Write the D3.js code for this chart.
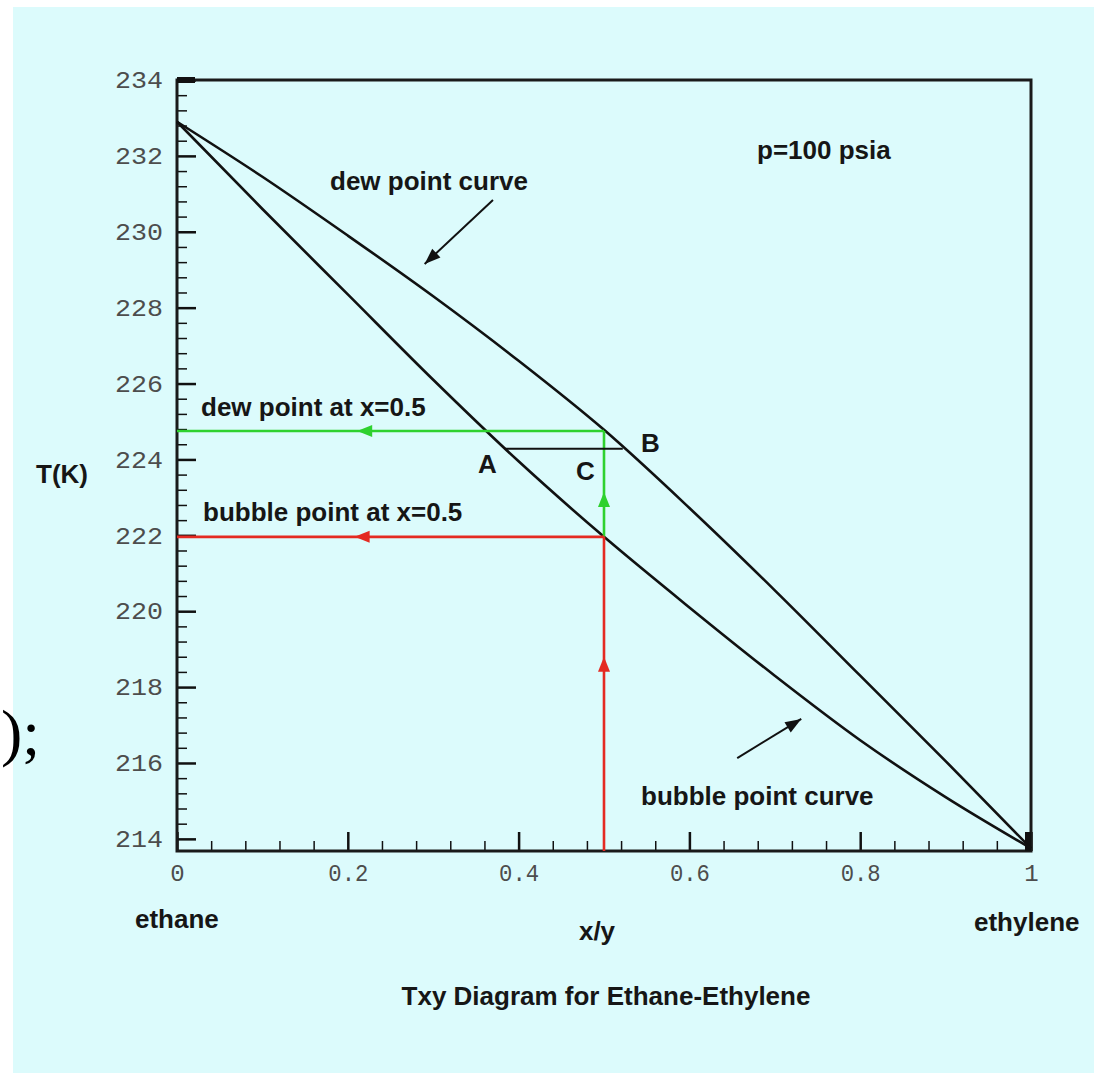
<!DOCTYPE html>
<html><head><meta charset="utf-8">
<script src="https://cdn.jsdelivr.net/npm/d3@7"></script>
<style>body{margin:0;background:#fff}svg{display:block}</style>
</head><body><svg id="c" width="1099" height="1076"></svg>
<script>
// ---- data ----
const xMajorTicks = [0, 0.2, 0.4, 0.6, 0.8, 1];
const xTickLabels = ["0", "0.2", "0.4", "0.6", "0.8", "1"];
const yMajorTicks = [214, 216, 218, 220, 222, 224, 226, 228, 230, 232, 234];
const yTickLabels = ["214", "216", "218", "220", "222", "224", "226", "228", "230", "232", "234"];
const dewX = [0, 0.1, 0.2, 0.3, 0.4, 0.5, 0.6, 0.7, 0.8, 0.9, 1];
const dewT = [232.9, 231.45, 229.9, 228.3, 226.6, 224.78, 222.72, 220.55, 218.3, 216.05, 213.75];
const bubbleX = [0, 0.1, 0.2, 0.3, 0.4, 0.5, 0.6, 0.7, 0.8, 0.9, 1];
const bubbleT = [232.9, 230.6, 228.35, 226.1, 223.95, 221.96, 220.1, 218.3, 216.6, 215.1, 213.75];
const feedX = 0.5;
const dewAtFeed = 224.75;
const bubbleAtFeed = 221.96;
const tieT = 224.28;
const tieXA = 0.384;
const tieXB = 0.522;
const yMin = 213.68, yMax = 234;

// ---- drawing ----
const svg = d3.select("#c");
const x = d3.scaleLinear().domain([0, 1]).range([177, 1031]);
const y = d3.scaleLinear().domain([yMin, yMax]).range([851, 80]);

svg.append("rect").attr("x", 0).attr("y", 0).attr("width", 1099).attr("height", 1076).attr("fill", "#ffffff");
svg.append("rect").attr("x", 13).attr("y", 7).attr("width", 1081).attr("height", 1066).attr("fill", "#dcfbfc");

// stray text on the left
svg.append("text").attr("x", 1).attr("y", 754)
  .attr("font-family", "Liberation Serif").attr("font-size", 64).attr("fill", "#000").text(");");

const tickColor = "#111";
const labelFont = "Liberation Sans";

// minor ticks
const yMinor = d3.range(214, 234.001, 0.4).map(v => +v.toFixed(1)).filter(v => !yMajorTicks.includes(v));
const xMinor = d3.range(0, 1.0001, 0.04).map(v => +v.toFixed(2)).filter(v => !xMajorTicks.includes(v));

const gyMinor = svg.append("g").attr("transform", `translate(${x(0)},0)`)
  .call(d3.axisLeft(y).tickValues(yMinor).tickSize(-10).tickFormat(""));
const gxMinor = svg.append("g").attr("transform", `translate(0,${y(yMin)})`)
  .call(d3.axisBottom(x).tickValues(xMinor).tickSize(-10).tickFormat(""));
[gyMinor, gxMinor].forEach(g => {
  g.select(".domain").remove();
  g.selectAll(".tick line").attr("stroke", tickColor).attr("stroke-width", 1.5);
});

// major ticks + labels
const gy = svg.append("g").attr("transform", `translate(${x(0)},0)`)
  .call(d3.axisLeft(y).tickValues(yMajorTicks).tickSize(-19).tickPadding(14)
    .tickFormat((d, i) => yTickLabels[i]));
const gx = svg.append("g").attr("transform", `translate(0,${y(yMin)})`)
  .call(d3.axisBottom(x).tickValues(xMajorTicks).tickSize(-19).tickPadding(30)
    .tickFormat((d, i) => xTickLabels[i]));
[gy, gx].forEach(g => {
  g.select(".domain").remove();
  g.selectAll(".tick line").attr("stroke", tickColor).attr("stroke-width", 2.5);
  g.selectAll(".tick text").attr("font-family", "Liberation Mono").attr("font-size", 24)
    .attr("fill", "#4d4d4d");
});
gy.selectAll(".tick text").attr("textLength", 48).attr("lengthAdjust", "spacingAndGlyphs");
gx.selectAll(".tick text").attr("dy", "0.32em").attr("y", 0)
  .attr("transform", "translate(0,22)");
gx.selectAll(".tick text").filter(d => d !== 0 && d !== 1)
  .attr("textLength", 40).attr("lengthAdjust", "spacingAndGlyphs");

// frame
svg.append("rect").attr("x", x(0)).attr("y", y(yMax)).attr("width", x(1) - x(0)).attr("height", y(yMin) - y(yMax))
  .attr("fill", "none").attr("stroke", "#1a1a1a").attr("stroke-width", 3);
// heavy corner ticks
svg.append("line").attr("x1", x(0)).attr("x2", x(0) + 18).attr("y1", y(234)).attr("y2", y(234))
  .attr("stroke", "#111").attr("stroke-width", 6);
svg.append("line").attr("x1", x(1) - 3).attr("x2", x(1) - 3).attr("y1", y(yMin)).attr("y2", y(yMin) - 19)
  .attr("stroke", "#111").attr("stroke-width", 6);

// curves
const line = d3.line().x(d => x(d[0])).y(d => y(d[1])).curve(d3.curveMonotoneX);
const dewPts = dewX.map((v, i) => [v, dewT[i]]);
const bubPts = bubbleX.map((v, i) => [v, bubbleT[i]]);
svg.append("path").attr("d", line(dewPts)).attr("fill", "none").attr("stroke", "#111").attr("stroke-width", 2.6);
svg.append("path").attr("d", line(bubPts)).attr("fill", "none").attr("stroke", "#111").attr("stroke-width", 2.6);

// construction lines
const green = "#2fd12f", red = "#e42a22";
function seg(x1, y1, x2, y2, col, w) {
  svg.append("line").attr("x1", x(x1)).attr("y1", y(y1)).attr("x2", x(x2)).attr("y2", y(y2))
    .attr("stroke", col).attr("stroke-width", w);
}
function head(px, py, angleDeg, col, len, half) {
  const a = angleDeg * Math.PI / 180;
  const bx = px - len * Math.cos(a), by = py - len * Math.sin(a);
  const nx = -Math.sin(a) * half, ny = Math.cos(a) * half;
  svg.append("path").attr("d", `M${px},${py}L${bx + nx},${by + ny}L${bx - nx},${by - ny}Z`).attr("fill", col);
}
seg(0, dewAtFeed, feedX, dewAtFeed, green, 2.6);
seg(feedX, bubbleAtFeed, feedX, dewAtFeed, green, 2.6);
seg(0, bubbleAtFeed, feedX, bubbleAtFeed, red, 2.6);
seg(feedX, yMin, feedX, bubbleAtFeed, red, 2.6);
head(x(0.211), y(dewAtFeed), 180, green, 15, 6);
head(x(feedX), y(223.14), -90, green, 15, 6);
head(x(0.208), y(bubbleAtFeed), 180, red, 15, 6);
head(x(feedX), y(218.8), -90, red, 15, 6);
// tie line A-B
seg(tieXA, tieT, tieXB, tieT, "#111", 2);

// annotation arrows
function arrow(x1, t1, x2, t2) {
  const p1 = [x(x1), y(t1)], p2 = [x(x2), y(t2)];
  const ang = Math.atan2(p2[1] - p1[1], p2[0] - p1[0]) * 180 / Math.PI;
  svg.append("line").attr("x1", p1[0]).attr("y1", p1[1]).attr("x2", p2[0]).attr("y2", p2[1])
    .attr("stroke", "#111").attr("stroke-width", 2);
  head(p2[0], p2[1], ang, "#111", 16, 6);
}
arrow(0.370, 230.84, 0.290, 229.15);
arrow(0.656, 216.13, 0.731, 217.16);

// labels
function label(txt, px, py, anchor, size) {
  svg.append("text").attr("x", px).attr("y", py).attr("text-anchor", anchor || "start")
    .attr("font-family", labelFont).attr("font-weight", "bold").attr("font-size", size || 26)
    .attr("fill", "#161616").text(txt);
}
label("p=100 psia", 757, 159);
label("dew point curve", 330, 190);
label("dew point at x=0.5", 201, 416);
label("bubble point at x=0.5", 203, 521);
label("A", 478, 473);
label("B", 641, 452);
label("C", 576, 480);
label("T(K)", 36, 483);
label("bubble point curve", 641, 805);
label("ethane", 135, 928);
label("x/y", 597, 940, "middle");
label("ethylene", 974, 931);
label("Txy Diagram for Ethane-Ethylene", 606, 1005, "middle");
</script></body></html>
